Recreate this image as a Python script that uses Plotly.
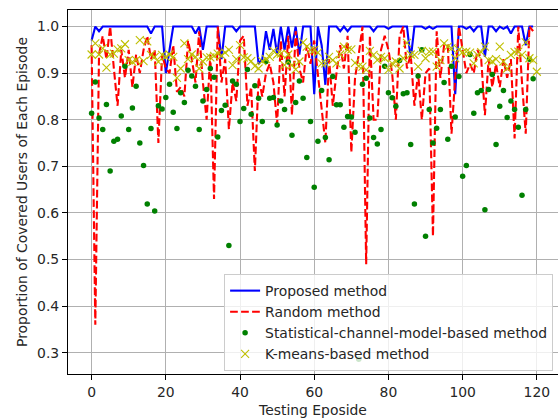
import plotly.graph_objects as go

proposed = [0.97, 1.0, 0.99, 1.0, 1.0, 1.0, 1.0, 1.0, 1.0, 1.0,
            1.0, 1.0, 1.0, 1.0, 1.0, 1.0, 0.985, 1.0, 1.0, 1.0,
            0.90, 0.95, 1.0, 1.0, 1.0, 1.0, 1.0, 1.0, 0.985, 1.0,
            0.95, 1.0, 1.0, 1.0, 1.0, 0.93, 1.0, 1.0, 1.0, 0.99,
            1.0, 1.0, 1.0, 1.0, 1.0, 0.92, 0.93, 0.99, 0.95, 0.995,
            0.94, 1.0, 0.95, 1.0, 0.955, 1.0, 0.94, 1.0, 1.0, 1.0,
            0.855, 1.0, 0.96, 0.875, 1.0, 1.0, 1.0, 0.99, 1.0, 0.99,
            1.0, 1.0, 1.0, 1.0, 1.0, 1.0, 0.99, 1.0, 1.0, 1.0,
            0.995, 1.0, 1.0, 1.0, 1.0, 1.0, 0.93, 1.0, 1.0, 1.0,
            0.995, 1.0, 0.995, 1.0, 1.0, 1.0, 1.0, 1.0, 0.855, 1.0,
            1.0, 0.995, 1.0, 0.99, 1.0, 1.0, 0.935, 1.0, 1.0, 0.99,
            1.0, 0.995, 1.0, 0.985, 1.0, 1.0, 1.0, 0.96, 1.0, 1.0]

random_m = [0.96, 0.36, 0.94, 0.98, 0.93, 1.0, 0.91, 0.83, 0.95, 0.89,
            0.95, 0.87, 0.94, 0.90, 0.95, 0.98, 0.93, 0.95, 0.75, 0.94,
            0.91, 0.90, 0.96, 0.86, 0.87, 0.85, 0.97, 0.93, 0.88, 0.99,
            0.88, 0.80, 0.94, 0.63, 1.0, 0.88, 0.93, 0.78, 0.88, 0.84,
            0.97, 0.98, 0.83, 0.87, 0.69, 0.89, 0.85, 0.90, 0.92, 0.88,
            0.79, 0.97, 0.85, 0.98, 0.81, 0.99, 0.91, 0.88, 0.96, 0.92,
            0.97, 0.90, 0.82, 0.75, 0.93, 0.83, 0.90, 0.96, 0.91, 0.98,
            0.73, 0.89, 0.94, 1.0, 0.49, 0.98, 0.80, 0.80, 0.95, 0.98,
            0.95, 0.90, 0.80, 0.98, 1.0, 0.91, 0.94, 0.83, 0.90, 0.80,
            0.90, 0.91, 0.55, 0.99, 0.89, 0.96, 0.96, 0.77, 0.89, 1.0,
            0.95, 0.90, 0.92, 0.90, 0.95, 0.93, 0.81, 0.93, 0.87, 0.92,
            0.87, 0.93, 0.89, 0.93, 0.76, 1.0, 0.88, 0.77, 1.0, 0.99]

statistical = [0.814, 0.881, 0.804, 0.779, 0.833, 0.690, 0.754, 0.758, 0.808, 0.915,
               0.779, 0.825, 0.872, 0.750, 0.702, 0.619, 0.781, 0.604, 0.830, 0.823,
               0.848, 0.876, 0.816, 0.781, 0.858, 0.837, 0.906, 0.894, 0.872, 0.779,
               0.840, 0.865, 0.910, 0.891, 0.763, 0.820, 0.831, 0.530, 0.883, 0.876,
               0.796, 0.824, 0.908, 0.812, 0.873, 0.846, 0.796, 0.925, 0.846, 0.848,
               0.789, 0.840, 0.822, 0.924, 0.767, 0.837, 0.883, 0.846, 0.719, 0.796,
               0.655, 0.754, 0.863, 0.762, 0.714, 0.893, 0.832, 0.832, 0.784, 0.807,
               0.806, 0.773, 0.286, 0.876, 0.889, 0.804, 0.762, 0.748, 0.779, 0.915,
               0.858, 0.847, 0.829, 0.927, 0.856, 0.858, 0.747, 0.619, 0.894, 0.950,
               0.550, 0.822, 0.750, 0.782, 0.822, 0.880, 0.758, 0.915, 0.806, 0.893,
               0.679, 0.702, 0.940, 0.814, 0.858, 0.863, 0.607, 0.865, 0.897, 0.747,
               0.829, 0.863, 0.805, 0.840, 0.822, 0.784, 0.638, 0.822, 0.930, 0.888]

kmeans = [0.940, 0.964, 0.940, 0.953, 0.912, 0.940, 0.942, 0.951, 0.953, 0.962,
          0.928, 0.924, 0.928, 0.971, 0.926, 0.968, 0.939, 0.935, 0.924, 0.939,
          0.935, 0.940, 0.935, 0.890, 0.910, 0.964, 0.930, 0.940, 0.935, 0.910,
          0.925, 0.934, 0.934, 0.937, 0.942, 0.938, 0.944, 0.950, 0.917, 0.930,
          0.960, 0.934, 0.932, 0.926, 0.915, 0.910, 0.926, 0.930, 0.935, 0.948,
          0.940, 0.942, 0.917, 0.940, 0.917, 0.908, 0.925, 0.966, 0.957, 0.950,
          0.950, 0.944, 0.921, 0.921, 0.935, 0.928, 0.921, 0.940, 0.957, 0.950,
          0.951, 0.922, 0.915, 0.914, 0.907, 0.948, 0.939, 0.928, 0.935, 0.932,
          0.907, 0.921, 0.925, 0.910, 0.932, 0.965, 0.940, 0.939, 0.914, 0.948,
          0.932, 0.946, 0.946, 0.914, 0.928, 0.964, 0.957, 0.953, 0.932, 0.950,
          0.945, 0.946, 0.944, 0.921, 0.939, 0.945, 0.957, 0.928, 0.925, 0.930,
          0.957, 0.925, 0.910, 0.939, 0.945, 0.946, 0.939, 0.966, 0.932, 0.928,
          0.903]

x_ticks = [0, 20, 40, 60, 80, 100, 120]
y_ticks = [0.3, 0.4, 0.5, 0.6, 0.7, 0.8, 0.9, 1.0]
y_tick_labels = ["0.3", "0.4", "0.5", "0.6", "0.7", "0.8", "0.9", "1.0"]

FONT = "DejaVu Sans"
FS = 13.9

fig = go.Figure()
fig.add_trace(go.Scatter(x=list(range(len(proposed))), y=proposed, mode="lines",
                         name="Proposed method", line=dict(color="#0000ff", width=2.1)))
fig.add_trace(go.Scatter(x=list(range(len(random_m))), y=random_m, mode="lines",
                         name="Random method",
                         line=dict(color="#ff0000", width=2.1, dash="7.7px,3.3px")))
fig.add_trace(go.Scatter(x=list(range(len(statistical))), y=statistical, mode="markers",
                         name="Statistical-channel-model-based method",
                         marker=dict(color="#008000", size=5.5, line=dict(width=0))))
fig.add_trace(go.Scatter(x=list(range(len(kmeans))), y=kmeans, mode="markers",
                         name="K-means-based method",
                         marker=dict(symbol="x-thin", size=8, color="#bfbf00",
                                     line=dict(color="#bfbf00", width=1.1))))

axis_common = dict(showgrid=True, gridcolor="#b0b0b0", gridwidth=1.1,
                   showline=True, linecolor="black", linewidth=1.1, mirror=True,
                   ticks="outside", ticklen=5, tickwidth=1.1, tickcolor="black",
                   zeroline=False, tickfont=dict(family=FONT, size=FS, color="#262626"))

fig.update_layout(
    width=558, height=419,
    margin=dict(l=68, r=0, t=10, b=45),
    paper_bgcolor="white", plot_bgcolor="white",
    font=dict(family=FONT, size=FS, color="#262626"),
    showlegend=True,
    legend=dict(x=0.99, y=0.008, xanchor="right", yanchor="bottom",
                bgcolor="rgba(255,255,255,0.8)", bordercolor="#cccccc", borderwidth=1,
                font=dict(family=FONT, size=FS, color="#262626"),
                itemwidth=30, tracegroupgap=0),
    xaxis=dict(range=[-6.36, 125.7], tickvals=x_ticks,
               title=dict(text="Testing Eposide", standoff=6,
                          font=dict(family=FONT, size=FS, color="#262626")),
               automargin=False, **axis_common),
    yaxis=dict(range=[0.2545, 1.0355], tickvals=y_ticks, ticktext=y_tick_labels,
               title=dict(text="Proportion of Covered Users of Each Episode", standoff=6,
                          font=dict(family=FONT, size=FS, color="#262626")),
               automargin=False, **axis_common),
)

fig.write_html("out.html")
